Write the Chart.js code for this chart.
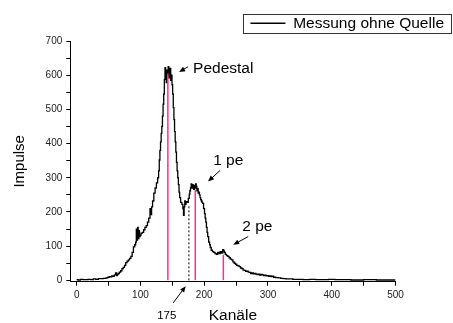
<!DOCTYPE html>
<html>
<head>
<meta charset="utf-8">
<script src="https://cdn.jsdelivr.net/npm/chart.js@4.4.1/dist/chart.umd.min.js"></script>
<style>
  html, body { margin: 0; padding: 0; background: #fff; }
  #wrap { width: 453px; height: 323px; }
</style>
</head>
<body>
<div id="wrap"><canvas id="chartSpektrum"></canvas></div>
<script>
// SPEKTRUM (Messung ohne Quelle)
const kanaele = [
  0, 4, 8, 12, 16, 20, 24, 28, 32, 36,
  40, 44, 48, 50, 52, 54, 56, 58, 60, 62,
  63, 64, 66, 68, 70, 72, 74, 76, 78, 80,
  82, 84, 86, 88, 90, 92, 93, 94, 95, 96,
  97, 98, 99, 100, 102, 104, 106, 108, 110, 112,
  114, 116, 117, 118, 120, 122, 124, 126, 128, 129,
  130, 131, 132, 133, 134, 135, 136, 137, 138, 139,
  140, 141, 142, 143, 144, 145, 146, 147, 148, 149,
  150, 151, 152, 153, 154, 155, 156, 157, 158, 159,
  160, 161, 162, 164, 166, 167, 168, 169, 170, 171,
  172, 174, 176, 177, 178, 179, 180, 181, 182, 183,
  184, 185, 186, 187, 188, 189, 190, 191, 192, 193,
  194, 195, 196, 197, 198, 200, 201, 202, 203, 204,
  205, 206, 208, 209, 210, 212, 214, 216, 218, 220,
  222, 224, 226, 228, 230, 231, 232, 234, 236, 238,
  240, 242, 244, 246, 248, 250, 252, 254, 256, 258,
  260, 262, 264, 266, 268, 270, 272, 274, 276, 278,
  280, 282, 284, 286, 288, 290, 292, 294, 296, 298,
  300, 302, 304, 306, 308, 310, 314, 318, 322, 326,
  330, 336, 342, 350, 360, 370, 380, 390, 400, 410,
  420, 440, 460, 480, 500
];
const impulse = [
  2, 1, 3, 2, 2, 3, 2, 4, 3, 5,
  5, 6, 7, 9, 11, 10, 13, 12, 16, 22,
  14, 17, 20, 24, 28, 34, 38, 44, 52, 56,
  60, 64, 70, 82, 98, 104, 112, 150, 118, 155,
  122, 145, 128, 132, 138, 140, 148, 155, 160, 170,
  182, 210, 192, 215, 232, 255, 270, 285, 300, 320,
  352, 380, 405, 430, 450, 480, 515, 545, 588, 622,
  600, 578, 615, 598, 625, 592, 606, 620, 585, 600,
  572, 545, 505, 470, 435, 405, 375, 345, 320, 300,
  280, 258, 242, 228, 222, 210, 190, 215, 232, 222,
  230, 228, 240, 252, 262, 270, 282, 270, 280, 272,
  266, 278, 270, 282, 275, 262, 268, 255, 258, 250,
  242, 236, 232, 228, 225, 210, 195, 182, 170, 155,
  140, 128, 112, 104, 96, 88, 84, 82, 78, 76,
  82, 78, 84, 80, 90, 86, 82, 76, 72, 70,
  66, 62, 60, 54, 50, 47, 44, 42, 40, 36,
  34, 30, 29, 26, 27, 24, 23, 20, 22, 19,
  20, 18, 17, 18, 15, 17, 16, 14, 15, 13,
  14, 12, 13, 11, 12, 9, 8, 7, 6, 5,
  4, 4, 3, 3, 2, 3, 2, 2, 3, 2,
  2, 1, 2, 1, 1
];

// Markierungen (Pedestal, 1 pe, 2 pe) und Schwelle bei 175
const markKanal = [143, 186, 230];
const markHoehe = [605, 265, 75];
const schwelleKanal = 176;
const schwelleHoehe = 221;

// Achsenteilung
const xTicks = [0, 50, 100, 150, 200, 250, 300, 350, 400, 450, 500];
const yTicks = [0, 50, 100, 150, 200, 250, 300, 350, 400, 450, 500, 550, 600, 650, 700];

const FONT = 'Liberation Sans, Arial, sans-serif';
Chart.defaults.font.family = FONT;
Chart.defaults.color = '#000';

// Beschriftungen mit Pfeilen (in Achsenwerten)
const notes = [
  { text: 'Pedestal', x: 182.5, y: 606, size: 15.5, align: 'left', from: [174.8, 625], to: [160.7, 609] },
  { text: '1 pe', x: 214, y: 338, size: 15.5, align: 'left', from: [224.6, 321], to: [206, 289] },
  { text: '2 pe', x: 259.6, y: 143, size: 15.5, align: 'left', from: [269, 128], to: [245.5, 104] },
  { text: '175', x: 141.3, y: -113, size: 11.5, align: 'center', from: [151.3, -66], to: [171, -17] }
];

const notesPlugin = {
  id: 'notes',
  afterDraw(chart) {
    const { ctx, scales: { x, y } } = chart;
    ctx.save();
    ctx.fillStyle = '#000';
    ctx.strokeStyle = '#000';
    ctx.lineWidth = 1;
    notes.forEach(n => {
      ctx.font = n.size + 'px ' + FONT;
      ctx.textAlign = n.align;
      ctx.textBaseline = 'alphabetic';
      ctx.fillText(n.text, x.getPixelForValue(n.x), y.getPixelForValue(n.y));
      const x1 = x.getPixelForValue(n.from[0]), y1 = y.getPixelForValue(n.from[1]);
      const x2 = x.getPixelForValue(n.to[0]), y2 = y.getPixelForValue(n.to[1]);
      const a = Math.atan2(y2 - y1, x2 - x1);
      ctx.beginPath();
      ctx.moveTo(x1, y1);
      ctx.lineTo(x2 - 4 * Math.cos(a), y2 - 4 * Math.sin(a));
      ctx.stroke();
      ctx.beginPath();
      ctx.moveTo(x2, y2);
      ctx.lineTo(x2 - 6 * Math.cos(a) + 2.5 * Math.sin(a), y2 - 6 * Math.sin(a) - 2.5 * Math.cos(a));
      ctx.lineTo(x2 - 6 * Math.cos(a) - 2.5 * Math.sin(a), y2 - 6 * Math.sin(a) + 2.5 * Math.cos(a));
      ctx.closePath();
      ctx.fill();
    });
    // Rahmen um die Legende
    const hb = chart.legend.legendHitBoxes[0];
    if (hb) {
      const cy = hb.top + hb.height / 2;
      ctx.strokeStyle = '#333';
      ctx.strokeRect(Math.round(hb.left - 7) + 0.5, Math.round(cy - 9.5) + 0.5, Math.round(hb.width + 14), 19);
    }
    ctx.restore();
  }
};

const markSets = markKanal.map((k, i) => ({
  label: 'mark' + i,
  data: [{ x: k, y: 0 }, { x: k, y: markHoehe[i] }],
  borderColor: '#ff2d95',
  borderWidth: 1.5,
  pointRadius: 0,
  order: 0
}));

const ctxSpektrum = document.getElementById('chartSpektrum');

new Chart(ctxSpektrum, {
  type: 'line',
  data: {
    datasets: [{
      label: 'Messung ohne Quelle',
      data: kanaele.map((k, i) => ({ x: k, y: impulse[i] })),
      borderColor: '#000',
      borderWidth: 1.3,
      pointRadius: 0,
      stepped: 'middle',
      order: 1
    }, ...markSets, {
      label: 'schwelle',
      data: [{ x: schwelleKanal, y: 0 }, { x: schwelleKanal, y: schwelleHoehe }],
      borderColor: '#000',
      borderWidth: 1,
      borderDash: [2, 2],
      pointRadius: 0,
      order: 0
    }]
  },
  options: {
    responsive: true,
    maintainAspectRatio: false,
    animation: false,
    layout: { padding: { top: 8.5, right: 2, left: 0, bottom: 0 } },
    plugins: {
      tooltip: { enabled: false },
      legend: {
        position: 'top',
        align: 'end',
        labels: {
          filter: item => item.datasetIndex === 0,
          usePointStyle: true,
          pointStyle: 'line',
          pointStyleWidth: 35,
          padding: 7,
          color: '#000',
          font: { size: 15.5 }
        }
      }
    },
    scales: {
      x: {
        type: 'linear',
        min: -10,
        max: 500,
        afterBuildTicks: s => { s.ticks = xTicks.map(v => ({ value: v })); },
        afterFit: s => { s.height = 41.3; },
        grid: { drawOnChartArea: false, tickLength: 4, tickColor: '#000' },
        border: { color: '#000' },
        ticks: {
          autoSkip: false, maxRotation: 0, padding: 4, color: '#222',
          font: { size: 10 },
          callback: v => (v % 100 === 0 ? v : '')
        },
        title: { display: true, text: 'Kanäle', font: { size: 15.5, lineHeight: 1 }, padding: 0 }
      },
      y: {
        min: -4,
        max: 700,
        afterBuildTicks: s => { s.ticks = yTicks.map(v => ({ value: v })); },
        afterFit: s => { s.width = 70.3; },
        grid: { drawOnChartArea: false, tickLength: 4, tickColor: '#000' },
        border: { color: '#000' },
        ticks: {
          padding: 4, color: '#222',
          font: { size: 10 },
          callback: v => (v % 100 === 0 ? v : '')
        },
        title: { display: true, text: 'Impulse', font: { size: 15 }, padding: { top: 11, bottom: 0 } }
      },
      yR: {
        position: 'right',
        display: true,
        afterFit: s => { s.width = 55.5; },
        grid: { display: false, drawTicks: false },
        border: { display: false },
        ticks: { display: false }
      }
    }
  },
  plugins: [notesPlugin]
});
</script>
</body>
</html>
